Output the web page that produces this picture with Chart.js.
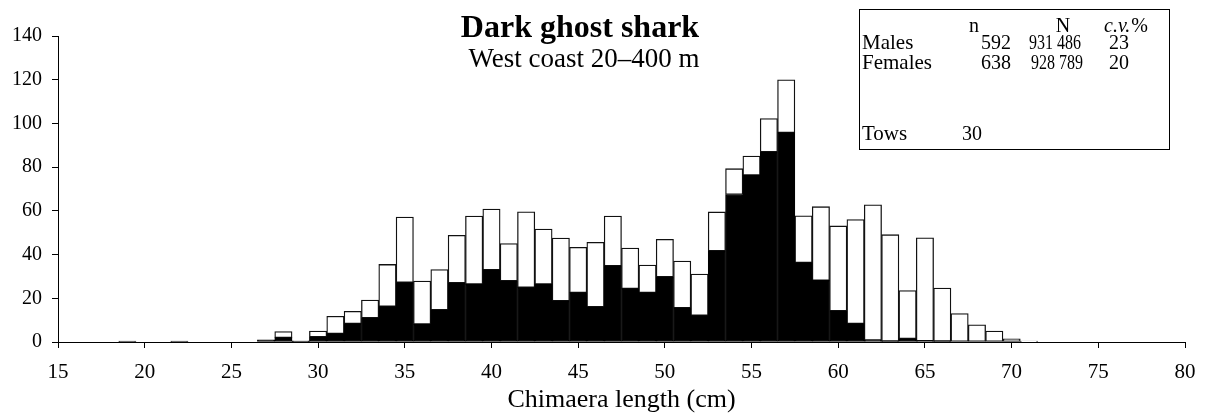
<!DOCTYPE html>
<html>
<head>
<meta charset="utf-8">
<script src="https://cdn.jsdelivr.net/npm/chart.js@4/dist/chart.umd.min.js"></script>
<style>
html,body{margin:0;padding:0;background:#fff;}
#wrap{width:1209px;height:417px;position:relative;}
</style>
</head>
<body>
<div id="wrap"><canvas id="c" width="1209" height="417"></canvas></div>
<script>
// Length classes (cm)
const lengths = [15,16,17,18,19,20,21,22,23,24,25,26,27,28,29,30,31,32,33,34,35,36,37,38,39,40,41,42,43,44,45,46,47,48,49,50,51,52,53,54,55,56,57,58,59,60,61,62,63,64,65,66,67,68,69,70,71,72,73,74,75,76,77,78,79,80];
// Males (black, bottom of stack)
const males = [0,0,0,0,0.4,0,0,0.4,0,0,0,0,1,2,0.3,2.3,3.8,8.4,11,16.2,27.2,8.1,14.6,27,26.4,33,27.9,24.9,26.4,18.8,22.6,16,34.8,24.4,22.6,29.7,15.6,12.1,41.6,67.5,76.3,86.9,95.8,36.3,28.2,14.2,8.4,0.8,0.4,1.5,0.5,0.4,0,0,0,0,0,0,0,0,0,0,0,0,0,0];
// Females (white, stacked on top)
const females = [0,0,0,0,0,0,0,0,0,0,0,0,0,2.8,0.2,2.7,8,5.6,8.2,19.3,30,19.8,18.5,21.8,31.2,27.8,17.1,34.7,25.3,28.8,20.7,29.6,22.8,18.6,12.6,17.3,21.4,19,17.9,11.8,8.8,15.3,24.2,21.4,33.7,38.9,47.6,62,48.7,22,47.2,24.3,13,7.9,5,1.5,0.4,0,0,0,0,0,0,0,0,0];
// Axis ticks
const xTicks = [15,20,25,30,35,40,45,50,55,60,65,70,75,80];
const yTicks = [0,20,40,60,80,100,120,140];
// Texts
const titleText = "Dark ghost shark";
const subtitleText = "West coast 20\u2013400 m";
const xTitle = "Chimaera length (cm)";
const tableHeader = ["n", "N", "c.v.", "%"];
const tableRows = [["Males","592","931 486","23"],["Females","638","928 789","20"]];
const towsRow = ["Tows","30"];

const FONT = "'Liberation Serif', 'DejaVu Serif', serif";

const overlay = {
  id: 'overlay',
  afterDraw(chart) {
    const ctx = chart.ctx;
    ctx.save();
    ctx.fillStyle = '#000';
    ctx.textBaseline = 'alphabetic';
    ctx.textAlign = 'center';
    ctx.font = "bold 32px " + FONT;
    ctx.fillText(titleText, 580, 37);
    ctx.font = "27px " + FONT;
    ctx.fillText(subtitleText, 584, 67);
    // table box
    ctx.strokeStyle = '#000';
    ctx.lineWidth = 1;
    ctx.fillStyle = '#fff';
    ctx.fillRect(859.5, 9.5, 310, 140);
    ctx.strokeRect(859.5, 9.5, 310, 140);
    ctx.fillStyle = '#000';
    ctx.font = "20px " + FONT;
    ctx.textAlign = 'center';
    ctx.fillText(tableHeader[0], 974, 32);
    ctx.fillText(tableHeader[1], 1063, 32);
    ctx.font = "italic 20px " + FONT;
    ctx.textAlign = 'left';
    ctx.fillText(tableHeader[2], 1104, 32);
    ctx.font = "20px " + FONT;
    ctx.textAlign = 'right';
    ctx.fillText(tableHeader[3], 1148, 32);
    const ys = [48.5, 68.5];
    const nRight = [1081, 1083];
    tableRows.forEach((r, i) => {
      ctx.font = "21px " + FONT;
      ctx.textAlign = 'left';
      ctx.fillText(r[0], 862, ys[i], 76);
      ctx.font = "20px " + FONT;
      ctx.textAlign = 'right';
      ctx.fillText(r[1], 1011, ys[i], 30);
      ctx.fillText(r[2], nRight[i], ys[i], 52);
      ctx.fillText(r[3], 1129, ys[i], 21);
    });
    ctx.font = "21px " + FONT;
    ctx.textAlign = 'left';
    ctx.fillText(towsRow[0], 862, 140);
    ctx.font = "20px " + FONT;
    ctx.textAlign = 'right';
    ctx.fillText(towsRow[1], 982, 140, 22);
    ctx.restore();
  }
};

new Chart(document.getElementById('c'), {
  type: 'bar',
  data: {
    datasets: [
      {
        label: 'Males',
        data: lengths.map((x, i) => ({x: x, y: males[i]})),
        backgroundColor: '#000',
        borderColor: '#000',
        borderWidth: 1,
        borderSkipped: false,
        barPercentage: 1,
        categoryPercentage: 1
      },
      {
        label: 'Females',
        data: lengths.map((x, i) => ({x: x, y: females[i]})),
        backgroundColor: '#fff',
        borderColor: '#111',
        borderWidth: 1.3,
        borderSkipped: false,
        barPercentage: 1,
        categoryPercentage: 1
      }
    ]
  },
  options: {
    responsive: false,
    animation: false,
    layout: {padding: {top: 36, right: 24, left: 0, bottom: 0}},
    plugins: {legend: {display: false}, tooltip: {enabled: false}, title: {display: false}},
    scales: {
      x: {
        type: 'linear',
        stacked: true,
        min: 15, max: 80,
        offset: false,
        afterFit(s) { s.height = 417 - 36 - 306; },
        afterBuildTicks(s) { s.ticks = xTicks.map(v => ({value: v})); },
        ticks: {color: '#000', font: {family: FONT, size: 21}, padding: 12, maxRotation: 0, autoSkip: false},
        grid: {display: true, offset: false, drawOnChartArea: false, drawTicks: true, tickLength: 6, color: '#000', lineWidth: 1},
        border: {display: true, color: '#000', width: 1},
        title: {display: true, text: xTitle, color: '#000', font: {family: FONT, size: 26}, padding: {top: 0, bottom: 1}}
      },
      y: {
        type: 'linear',
        stacked: true,
        min: 0, max: 140,
        afterFit(s) { s.width = 58; },
        afterBuildTicks(s) { s.ticks = yTicks.map(v => ({value: v})); },
        ticks: {color: '#000', font: {family: FONT, size: 20}, padding: 10},
        grid: {display: true, drawOnChartArea: false, drawTicks: true, tickLength: 6, color: '#000', lineWidth: 1},
        border: {display: true, color: '#000', width: 1}
      }
    }
  },
  plugins: [overlay]
});
</script>
</body>
</html>
